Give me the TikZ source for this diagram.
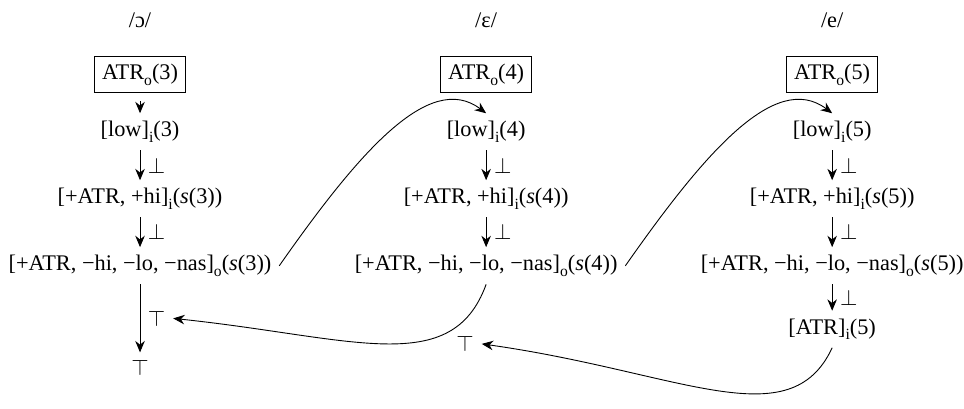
\documentclass[tikz,border=0pt]{standalone}
\usepackage{fontspec}
\setmainfont{Liberation Serif}
\usetikzlibrary{arrows.meta,positioning}
\newcommand{\lsub}[1]{\raisebox{-2.6pt}{\scriptsize #1}}

\begin{document}
\begin{tikzpicture}[node distance=1.055cm, on grid, >={Stealth[length=1.8mm,width=1.5mm]}]
  \useasboundingbox (0,0) rectangle (15.18,-6.43);
  % column /ɔ/
  \node (ta) at (2.205,-0.315) {/ɔ/};
  \node[draw,below=0.86cm of ta] (boxa) {ATR\lsub{o}(3)};
  \node[below=0.9cm of boxa] (lowa) {[low]\lsub{i}(3)};
  \node[below=of lowa] (hia) {[+ATR, +hi]\lsub{i}(\textit{s}(3))};
  \node[below=of hia] (nasa) {[+ATR, −hi, −lo, −nas]\lsub{o}(\textit{s}(3))};
  \node[below=1.61cm of nasa] (topa) {$\top$};
  % column /ɛ/
  \node (tb) at (7.655,-0.315) {/ɛ/};
  \node[draw,below=0.86cm of tb] (boxb) {ATR\lsub{o}(4)};
  \node[below=0.9cm of boxb] (lowb) {[low]\lsub{i}(4)};
  \node[below=of lowb] (hib) {[+ATR, +hi]\lsub{i}(\textit{s}(4))};
  \node[below=of hib] (nasb) {[+ATR, −hi, −lo, −nas]\lsub{o}(\textit{s}(4))};
  \node[below left=1.23cm and 0.33cm of nasb] (topb) {$\top$};
  % column /e/
  \node (tc) at (13.104,-0.315) {/e/};
  \node[draw,below=0.86cm of tc] (boxc) {ATR\lsub{o}(5)};
  \node[below=0.9cm of boxc] (lowc) {[low]\lsub{i}(5)};
  \node[below=of lowc] (hic) {[+ATR, +hi]\lsub{i}(\textit{s}(5))};
  \node[below=of hic] (nasc) {[+ATR, −hi, −lo, −nas]\lsub{o}(\textit{s}(5))};
  \node[below=1cm of nasc] (atrc) {[ATR]\lsub{i}(5)};

  \draw[->,shorten <=3.5pt] (boxa) -- (lowa);
  \draw[->] (lowa) -- node[right] {$\bot$} (hia);
  \draw[->] (hia) -- node[right] {$\bot$} (nasa);
  \draw[->] (nasa) -- node[right] (sidea) {$\top$} (topa);

  \draw[->] (lowb) -- node[right] {$\bot$} (hib);
  \draw[->] (hib) -- node[right] {$\bot$} (nasb);

  \draw[->] (lowc) -- node[right] {$\bot$} (hic);
  \draw[->] (hic) -- node[right] {$\bot$} (nasc);
  \draw[->] (nasc) -- node[right] {$\bot$} (atrc);

  % links between the columns
  \draw[->] (nasa.east) to[out=55,in=143,out distance=2.17cm,in distance=1.12cm] (lowb.north);
  \draw[->] (nasb.east) to[out=55,in=143,out distance=2.17cm,in distance=1.12cm] (lowc.north);
  \draw[->] (nasb.south) to[out=250,in=-6,out distance=1.58cm,in distance=2.85cm] (sidea.east);
  \draw[->] (atrc.south) to[out=245,in=-8,out distance=1.58cm,in distance=3.15cm] (topb.east);
\end{tikzpicture}
\end{document}
